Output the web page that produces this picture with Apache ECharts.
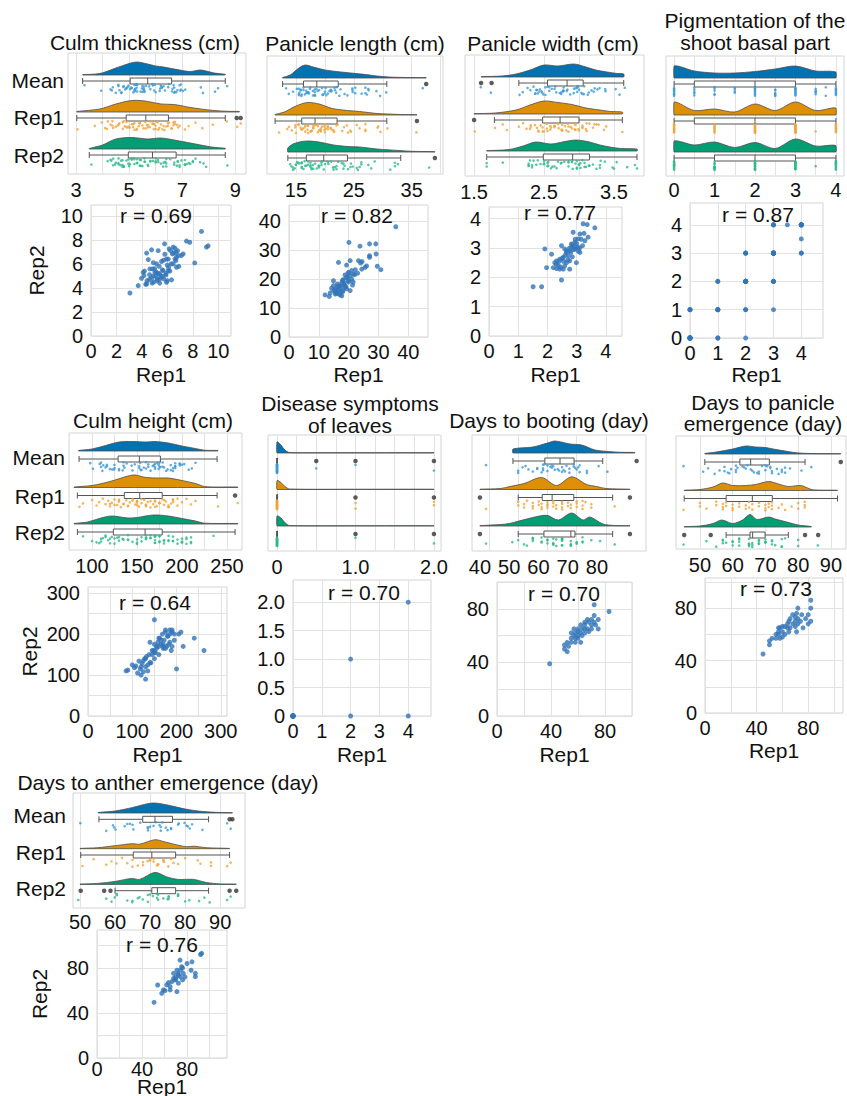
<!DOCTYPE html>
<html><head><meta charset="utf-8">
<script src="https://cdn.jsdelivr.net/npm/echarts/dist/echarts.min.js"></script>
<style>html,body{margin:0;padding:0;background:#fff}#c{width:847px;height:1096px}</style>
</head><body><div id="c"></div>
<script>
const FONT = "'Liberation Sans', Arial, Helvetica, sans-serif";
const rowNames = ['Mean', 'Rep1', 'Rep2'];
const rainColors = ['#0173B2', '#DE8F05', '#029E73'];
const ptColors = ['#3a9ad6', '#f2a43a', '#2dba8c'];
const scatterColor = '#3274B8';

// ---------- Culm thickness ----------
const ctRep1 = [3.06,3.71,3.97,4.1,4.3,4.37,4.5,4.63,4.76,4.58,4.9,4.94,5.15,5.28,5.36,5.4,5.54,5.67,5.8,5.78,5.88,5.93,5.99,6.07,6.14,6.2,6.33,6.4,6.46,6.6,6.67,6.72,6.85,6.72,7.1,7.24,7.5,7.76,8.15,8.68,9.07,9.2,4.16,4.37,4.76,5.02,5.1,5.2,4.84,5.4,5.62,5.72,6.07,5.15,5.93,6.25,6.46,6.67,4.4,4.6,4.8,5.0,5.2,5.3,5.5,5.6,5.7,5.9,6.1,6.3,6.5,6.6,6.8,4.2,4.9,5.4,6.0,6.9];
const ctRep2 = [3.58,4.19,4.8,5.3,4.3,6.9,6.36,5.58,7.17,4.7,5.0,4.5,5.3,7.1,5.8,4.75,6.2,5.44,6.8,7.67,5.08,4.47,5.9,6.4,7.25,5.4,4.67,6.83,6.0,7.3,6.97,5.72,6.7,6.55,6.7,6.83,7.9,7.8,6.08,8.7,7.4,7.5,5.03,4.33,4.8,5.3,4.97,4.75,5.58,5.17,4.97,4.75,5.44,6.0,6.4,7.1,7.4,6.28,4.6,5.1,4.4,5.6,4.6,5.2,4.9,5.5,6.3,5.2,5.7,6.0,6.9,6.4,7.1,5.4,6.1,4.4,4.6,5.8];
const ctBox = [[3.25,5.04,5.7,6.6,8.62],[3.03,4.89,5.63,6.48,8.62],[3.5,4.97,5.88,6.77,8.62]];
const ctOut = [[],[9.05,9.2],[]];
const ctDenMean = [[3.25,0.3],[3.9,1.5],[4.5,7],[5.0,11.5],[5.3,13],[5.7,11],[6.0,9],[6.3,8],[6.9,5],[7.3,3.5],[7.7,5],[8.2,2],[8.62,0.7]];
const ctDenRep1 = [[3.03,0.5],[3.9,3],[4.5,8],[5.1,11.5],[5.6,11],[6.2,8],[6.7,7.5],[7.2,5],[7.7,3],[8.2,1.5],[8.7,0.7],[9.15,0.5]];
const ctDenRep2 = [[3.5,0.5],[4.0,4],[4.5,10],[5.1,11.5],[5.7,10],[6.2,11],[6.9,8],[7.5,5],[8.1,2],[8.62,0.7]];
const ctRainGrid = [3,4,5,6,7,8,9], ctRainTicks = [3,5,7,9];
const ctScGrid = [0,2,4,6,8,10], ctScTicks = [0,2,4,6,8,10];

// ---------- Panicle length ----------
const plRep1 = [35.8,20.1,23.8,27.0,29.1,27.0,27.0,29.2,29.6,30.8,25.5,24.4,23.3,24.0,20.5,16.6,19.3,21.0,22.2,21.3,19.9,18.8,19.3,18.2,17.7,14.9,17.1,16.0,18.8,16.6,18.0,15.4,14.3,13.8,12.1,13.5,17.1,17.7,15.8,18.5,19.9,20.5,21.6,16.2,14.9,19.3,20.5,15,16,17,17.5,18,18.5,19,19.5,20,21,22,23,16.5,15.5,17,18,24.5,26,20,21.5];
const plRep2 = [38.0,32.6,31.3,32.1,32.1,28.0,27.5,28.6,24.4,23.2,24.0,23.4,26.3,25.5,26.3,25.7,24.8,22.9,23.2,17.9,22.3,21.4,20.6,19.8,18.9,19.4,17.7,17.1,17.1,16.0,15.6,16.3,16.8,15.2,14.5,14.0,14.5,14.2,15.4,18.6,19.4,21.1,21.7,18.3,17.7,16.6,16.0,16,15,16.5,17.5,16,18,17.5,20.5,19,20,21.5,22,17.5,14.8,15,19.5,26,24.5,22,19];
const plBox = [[12.7,16.3,18.6,22.3,30.7],[11.4,16.0,18.3,22.1,30.7],[13.6,16.8,19.8,23.9,33.1]];
const plOut = [[37.5],[35.9],[39]];
const plDenMean = [[12.7,0.5],[14,3],[15.5,10],[16.6,13],[18,11],[20,8],[22,6.5],[24.5,5],[27,3.5],[29,2],[31,1],[34,0.5],[37.5,0.3]];
const plDenRep1 = [[11.4,0.5],[13,3],[15,9],[17,12.5],[19,11],[21.3,6.5],[23.9,4.5],[26,3.5],[29,1.5],[31,1],[33,0.5],[35.9,0.3]];
const plDenRep2 = [[13.6,4],[14.5,8],[16,10.5],[17.2,11],[19,10],[21.5,7],[24,5.5],[26,5],[29,3],[32.8,1.5],[35,0.7],[39,0.3]];
const plRainGrid = [15,20,25,30,35,40], plRainTicks = [15,25,35];
const plScGrid = [0,10,20,30,40], plScTicks = [0,10,20,30,40];

// ---------- Panicle width ----------
const pwRep1 = [1.51,1.8,1.91,1.97,2.14,2.2,2.25,2.31,2.42,2.48,2.54,2.59,2.65,2.48,2.71,2.76,2.82,2.88,2.94,2.99,3.05,3.11,3.2,3.22,3.36,3.39,3.62,2.54,2.37,2.76,2.65,2.84,2.94,2.59,2.42,3.05,3.28,2.76,2.31,3.11,2.3,2.45,2.55,2.6,2.7,2.75,2.8,2.85,2.9,2.95,3.0,3.05,3.15,3.1,2.65,2.5,2.4,3.25,2.95,2.85];
const pwRep2 = [1.68,1.68,2.97,2.33,2.79,2.33,2.5,2.3,2.28,1.91,2.68,2.39,2.5,3.08,2.74,2.91,3.14,3.54,2.97,2.5,3.31,2.85,3.08,3.83,3.8,3.37,3.69,2.28,2.41,2.56,2.85,3.02,3.2,2.97,2.62,3.02,3.25,2.28,2.56,3.48,2.45,2.35,2.55,2.75,2.6,3.0,2.85,3.1,2.95,3.05,3.15,2.9,3.3,3.0,2.9,2.65,2.55,3.5,3.3,2.7];
const pwBox = [[2.14,2.55,2.83,3.06,3.64],[1.79,2.48,2.73,3.0,3.62],[1.68,2.49,2.91,3.15,3.83]];
const pwOut = [[1.6,1.75],[1.5],[]];
const pwDenMean = [[1.6,0.3],[1.9,1],[2.1,3],[2.3,7],[2.5,12],[2.7,11],[2.93,13],[3.1,10],[3.24,7],[3.4,5],[3.55,3.5],[3.64,3]];
const pwDenRep1 = [[1.5,0.3],[1.8,1],[2.1,4],[2.3,9],[2.5,13],[2.7,11.5],[2.9,9.5],[3.1,6],[3.3,4],[3.45,2.5],[3.62,2]];
const pwDenRep2 = [[1.68,0.3],[2.0,1.5],[2.2,5],[2.38,9],[2.6,7],[2.8,9.5],[2.96,11],[3.15,9],[3.3,6],[3.44,4],[3.6,2.5],[3.83,2]];
const pwRainGrid = [1.5,2,2.5,3,3.5], pwRainTicks = [1.5,2.5,3.5];
const pwScGrid = [0,1,2,3,4], pwScTicks = [0,1,2,3,4];

// ---------- Pigmentation of the shoot basal part ----------
const pgRep1 = [0,0,0,0,0,0,0,0,0,0,0,1,1,1,1,1,1,1,1,2,2,2,2,2,2,2,2,2,2,2,2,2,2,3,3,3,3,3,3,3,3,3,3,3,3,3,3,3,3,3,3.5,4,4,4,4,4,4,4,4,4,4];
const pgRep2 = [0,0,0,0,0,0,0,0,1,1,1,0,0,1,1,1,1,2,2,0,1,1,2,2,2,2,2,2,2,2,3,3,3,4,1,2,2,2,3,3,3,3,3,3,3,3,3,3,4,4,4,4,4,4,4,4,4,4,3.5,3,3,3];
const pgBox = [[0,0.5,2,3,4],[0,0.5,2,3,4],[0,1,2,3,4]];
const pgOut = [[],[],[]];
const pgDenMean = [[0,12],[0.5,7],[1.0,5],[1.5,5],[2.0,6.5],[2.5,9],[3.0,12],[3.5,7],[4.0,6]];
const pgDenRep1 = [[0,13],[0.5,4.5],[1.0,6],[1.5,3],[2.0,11],[2.5,4.5],[3.0,13],[3.5,4.5],[4.0,7]];
const pgDenRep2 = [[0,11],[0.5,7],[1.0,10],[1.5,4.5],[2.0,9.5],[2.5,3.5],[3.0,13],[3.5,6],[4.0,6.5]];
const pgRainGrid = [0,0.5,1,1.5,2,2.5,3,3.5,4], pgRainTicks = [0,1,2,3,4];
const pgScGrid = [0,1,2,3,4], pgScTicks = [0,1,2,3,4];

// ---------- Culm height ----------
const chRep1 = [86,90,100,105,108,112,115,118,120,122,125,128,130,132,135,138,140,142,145,148,150,152,155,158,160,162,165,168,170,172,175,178,180,182,185,188,190,195,200,205,210,215,240,262,130,150,170,185,120,130,140,150,155,160,165,170,175,180,185,190,195,135,145,160,175,190,125,150];
const chRep2 = [110,112,125,118,122,105,134,115,100,128,108,140,90,145,125,150,180,130,150,160,235,155,165,180,170,190,175,200,165,185,210,170,195,175,200,160,205,185,115,200,205,170,190,160,120,140,170,210,120,140,130,155,170,150,185,175,165,195,180,170,200,110,160,190,205,210,135,175];
const chBox = [[85.6,129,152.6,176,239],[83.7,135.9,153,178,239],[83.7,123.7,159,178,259]];
const chOut = [[],[259],[]];
const chDenMean = [[85,0.5],[100,2],[115,5.5],[130,9],[145,9.5],[160,9],[170,9.5],[185,8],[200,5],[215,2.5],[225,0.8],[240,0.5]];
const chDenRep1 = [[80,0.5],[100,2],[120,6],[140,11.5],[148,12.5],[160,10],[175,9.5],[185,9.5],[200,7],[215,4],[225,1],[240,0.5],[262,0.5]];
const chDenRep2 = [[80,0.5],[95,2],[110,6],[122,8],[140,6],[150,6.5],[168,9],[185,8],[200,5.5],[215,3],[225,0.8],[262,0.5]];
const chRainGrid = [100,125,150,175,200,225,250], chRainTicks = [100,150,200,250];
const chScGrid = [0,50,100,150,200,250,300], chScTicks = [0,100,200,300];

// ---------- Disease symptoms of leaves ----------
const dsRep1 = [0,0,0,0,0,0,0,0,0,0,2,4,2,4];
const dsRep2 = [0,0,0,0,0,0,0,0,0,0,0,0,1,2];
const dsRainMean = [0,0,0,0,0,0,0,0,0,0,0,0,0,0,0,0,0,0,0,0,0.5,1,2];
const dsRainRep1 = [0,0,0,0,0,0,0,0,0,0,0,0,0,0,0,0,0,0,0,0,1,1,2,2];
const dsRainRep2 = [0,0,0,0,0,0,0,0,0,0,0,0,0,0,0,0,0,0,0,0,1,2];
const dsBox = [[0,0,0,0,0],[0,0,0,0,0],[0,0,0,0,0]];
const dsOut = [[0.5,1,2],[1,2],[1,2]];
const dsDenMean = [[0,11],[0.05,8],[0.1,3],[0.16,0.5],[0.5,0.3],[1,0.3],[2,0.3]];
const dsDenRep1 = [[0,9],[0.05,7],[0.1,3],[0.16,0.5],[1,0.3],[2,0.3]];
const dsDenRep2 = [[0,10],[0.05,8],[0.1,3.5],[0.16,0.5],[1,0.3],[2,0.3]];
const dsRainGrid = [0,0.25,0.5,0.75,1,1.25,1.5,1.75,2], dsRainTicks = [0,1,2];
const dsScXGrid = [0,1,2,3,4], dsScXTicks = [0,1,2,3,4];
const dsScYGrid = [0,0.5,1,1.5,2], dsScYTicks = [0,0.5,1,1.5,2];

// ---------- Days to booting ----------
const dbRep1 = [39,50,50,52,52,53,55,55,55,57,57,58,58,58,60,60,60,60,62,62,62,63,63,65,65,65,65,67,67,68,68,70,70,70,72,72,73,75,75,72,83];
const dbRep2 = [39,50,53,48,55,52,55,58,62,60,65,58,55,62,60,63,58,65,62,68,55,60,65,65,70,62,68,65,72,70,63,68,72,65,70,75,68,72,65,83,78];
const dbBox = [[48.2,59.1,64.3,69.1,78.9],[50,58.2,61.6,69,82.3],[50,58.8,68,69.4,82.3]];
const dbOut = [[90.5],[36.9,88.2],[36.9,88.2]];
const dbDenMean = [[48.2,4],[55,6],[60,10],[62.6,12],[67.7,9],[71.7,8],[76.3,3],[80.8,1.5],[85,0.7],[89.9,0.5]];
const dbDenRep1 = [[36.9,0.3],[44,1],[47.2,3],[52,6],[58,12],[63.1,4],[68.3,12.7],[73.4,5],[76.8,3],[80,1],[88.2,0.3]];
const dbDenRep2 = [[36.9,0.3],[44,1.5],[47,2.5],[52.9,7],[59.7,10.7],[63.7,6],[68.3,13],[72.2,6],[74.5,9],[79,2],[83,0.5],[88.2,0.3]];
const dbRainGrid = [40,50,60,70,80], dbRainTicks = [40,50,60,70,80];
const dbScGrid = [0,20,40,60,80,100], dbScTicks = [0,40,80];

// ---------- Days to panicle emergence ----------
const dpRep1 = [45,50,50,52,55,55,57,57,57,58,58,60,60,60,62,62,64,64,65,65,66,66,68,68,70,70,70,71,71,72,72,72,74,75,76,78,80,80,82,82,82];
const dpRep2 = [45,52,55,57,57,60,60,62,65,57,65,58,62,66,60,66,65,68,62,70,65,72,68,75,66,70,73,62,76,68,72,80,70,75,65,72,75,68,80,86,70];
const dpBox = [[51.5,62.2,65.5,71.2,82.1],[45.2,58,66,72.1,92],[58,65.3,66.1,69.9,77]];
const dpOut = [[93],[],[45.2,53.3,82.1,86.1]];
const dpDenMean = [[51.5,0.5],[55,2],[60,5],[64,8],[67,7],[70,6.5],[72.4,5],[76,3],[79.5,1.2],[84,0.5],[93,0.3]];
const dpDenRep1 = [[45.2,0.3],[50,1],[54,3.5],[57,7.5],[60,5],[64,5],[67,6],[71,9],[74,6.5],[77,4],[80.8,5],[84.5,0.7],[92,0.3]];
const dpDenRep2 = [[45.2,0.3],[50,1],[54,3.5],[56.7,7],[60,3.5],[63,7],[65.3,12.5],[67.4,7.5],[71,10],[73,8],[76.5,5],[80,2],[84,0.5]];
const dpRainGrid = [50,60,70,80,90], dpRainTicks = [50,60,70,80,90];
const dpScGrid = [0,20,40,60,80,100], dpScTicks = [0,40,80];

// ---------- Days to anther emergence ----------
const daRep1 = [50.7,93,53.9,57.5,59,62,60.4,65,66.5,68,71,72.3,73.8,75.2,76.7,73.8,68,71,80,84.4,83.6,87.4,87.4,76,72.3,69.3,65,63.5,70,72,74,76,78,70,92];
const daRep2 = [49.5,93,64.9,57.5,60.5,65,59.9,60.5,67.9,70.8,59,66.5,72.3,81.2,75.3,87,75.3,78,84,85.5,78,72.3,75.3,69.4,73.8,69.4,63.5,67,72,75,78,80,72,70,92];
const daBox = [[55.4,67.9,71.4,76.4,86.7],[50.2,65.2,70.5,77.3,92.7],[60,70.5,72.1,77.3,86.7]];
const daOut = [[92.7,93.5],[],[50.2,56.9,58.7,92.7,94.6]];
const daDenMean = [[55.2,0.5],[60,2],[65,5.5],[70.6,10],[75,8],[80,4],[85,1.5],[90,0.5],[93.5,0.3]];
const daDenRep1 = [[50,0.3],[55,1],[60,3],[64.9,5],[67,4.5],[71.4,9],[74,7],[78,3.5],[80.4,2],[82.5,2.5],[86,1],[92.7,0.3]];
const daDenRep2 = [[50,0.3],[55,1],[60,3],[64.8,6],[67,5],[71.4,12],[74.8,7.5],[78,5],[82.4,5],[86,2],[90,0.5],[94.6,0.3]];
const daRainGrid = [50,60,70,80,90], daRainTicks = [50,60,70,80,90];
const daScGrid = [0,20,40,60,80,100], daScTicks = [0,40,80];

const rValues = ['0.69','0.82','0.77','0.87','0.64','0.70','0.70','0.73','0.76'];

// ---------- layout (positions only) ----------
const G1 = {y0:22, dy:37, bo:6, p0:9, p1:18};
const G2 = {y0:18, dy:36.5, bo:8, p0:11, p1:20};
const G3 = {y0:20, dy:35.7, bo:6.3, p0:9, p1:18};
const fmt1 = v => v === 0 ? '0' : v.toFixed(1);

const traits = [
 {title:['Culm thickness (cm)'], tx:145, ty:[42], rep1:ctRep1, rep2:ctRep2, box:ctBox, out:ctOut, den:[ctDenMean,ctDenRep1,ctDenRep2], rg:ctRainGrid, rt:ctRainTicks,
  rain:{l:68,t:53,w:178,h:121,xmin:2.7,xmax:9.4,G:G1,rows:[64,[80,117,155]]},
  sc:{l:91,t:205,w:140,h:131,xmax:11,ymax:10.9,xg:ctScGrid,xt:ctScTicks,yg:ctScGrid,yt:ctScTicks,rx:156,ry:215,xng:28,yng:44}},
 {title:['Panicle length (cm)'], tx:355, ty:[43], rep1:plRep1, rep2:plRep2, box:plBox, out:plOut, den:[plDenMean,plDenRep1,plDenRep2], rg:plRainGrid, rt:plRainTicks,
  rain:{l:267,t:56,w:176,h:118,xmin:10,xmax:40.4,G:G1},
  sc:{l:289,t:205,w:139,h:132,xmax:46.6,ymax:45.5,xg:plScGrid,xt:plScTicks,yg:plScGrid,yt:plScTicks,rx:357,ry:215,xng:27}},
 {title:['Panicle width (cm)'], tx:553, ty:[43], rep1:pwRep1, rep2:pwRep2, box:pwBox, out:pwOut, den:[pwDenMean,pwDenRep1,pwDenRep2], rg:pwRainGrid, rt:pwRainTicks,
  rain:{l:465,t:55,w:179,h:121,xmin:1.37,xmax:3.93,G:G1},
  sc:{l:489,t:207,w:133,h:129,xmax:4.55,ymax:4.4,xg:pwScGrid,xt:pwScTicks,yg:pwScGrid,yt:pwScTicks,rx:560,ry:212,xng:28}},
 {title:['Pigmentation of the','shoot basal part'], tx:755, ty:[20,42], rep1:pgRep1, rep2:pgRep2, box:pgBox, out:pgOut, den:[pgDenMean,pgDenRep1,pgDenRep2], rg:pgRainGrid, rt:pgRainTicks, lmargin:4,
  rain:{l:666,t:56,w:178,h:120,xmin:-0.2,xmax:4.2,G:G1},
  sc:{l:690,t:203,w:133,h:135,xmax:4.78,ymax:4.77,xg:pgScGrid,xt:pgScTicks,yg:pgScGrid,yt:pgScTicks,rx:758,ry:214,xng:26}},
 {title:['Culm height (cm)'], tx:153, ty:[420], rep1:chRep1, rep2:chRep2, box:chBox, out:chOut, den:[chDenMean,chDenRep1,chDenRep2], rg:chRainGrid, rt:chRainTicks,
  rain:{l:69,t:433,w:173,h:117,xmin:74.4,xmax:266.7,G:G2,rows:[65,[457,496,532]]},
  sc:{l:88,t:587,w:139,h:129,xmax:314,ymax:315,xg:chScGrid,xt:chScTicks,yg:chScGrid,yt:chScTicks,rx:155,ry:602,xng:28,yng:48}},
 {title:['Disease symptoms','of leaves'], tx:350, ty:[403,425], rep1:dsRep1, rep2:dsRep2, pts:[dsRainMean,dsRainRep1,dsRainRep2], box:dsBox, out:dsOut, den:[dsDenMean,dsDenRep1,dsDenRep2], rg:dsRainGrid, rt:dsRainTicks, rfmt:fmt1,
  rain:{l:268,t:435,w:173,h:116,xmin:-0.115,xmax:2.09,G:G2},
  sc:{l:293,t:580,w:138,h:136,xmax:4.79,ymax:2.39,xg:dsScXGrid,xt:dsScXTicks,yg:dsScYGrid,yt:dsScYTicks,yfmt:fmt1,rx:364,ry:592,xng:28}},
 {title:['Days to booting (day)'], tx:549, ty:[420], rep1:dbRep1, rep2:dbRep2, box:dbBox, out:dbOut, den:[dbDenMean,dbDenRep1,dbDenRep2], rg:dbRainGrid, rt:dbRainTicks, lpad:[0,18,0,0],
  rain:{l:472,t:435,w:174,h:116,xmin:34.2,xmax:93.7,G:G2},
  sc:{l:497,t:582,w:135,h:134,xmax:100,ymax:100,xg:dbScGrid,xt:dbScTicks,yg:dbScGrid,yt:dbScTicks,rx:564,ry:593,xng:28}},
 {title:['Days to panicle','emergence (day)'], tx:763, ty:[402,423], rep1:dpRep1, rep2:dpRep2, box:dpBox, out:dpOut, den:[dpDenMean,dpDenRep1,dpDenRep2], rg:dpRainGrid, rt:dpRainTicks,
  rain:{l:676,t:436,w:170,h:113,xmin:42.7,xmax:94.6,G:G2},
  sc:{l:705,t:578,w:138,h:135,xmax:107,ymax:103,xg:dpScGrid,xt:dpScTicks,yg:dpScGrid,yt:dpScTicks,rx:776,ry:588,xng:27}},
 {title:['Days to anther emergence (day)'], tx:168, ty:[782], rep1:daRep1, rep2:daRep2, box:daBox, out:daOut, den:[daDenMean,daDenRep1,daDenRep2], rg:daRainGrid, rt:daRainTicks, lmargin:4,
  rain:{l:73,t:793,w:172,h:115,xmin:48,xmax:97.1,G:G3,rows:[66,[815,852,888]]},
  sc:{l:97,t:930,w:130,h:128,xmax:115.5,ymax:113.8,xg:daScGrid,xt:daScTicks,yg:daScGrid,yt:daScTicks,rx:162,ry:944,xng:18,yng:47,xlm:1}}
];

const option = {animation:false, backgroundColor:'#fff', grid:[], xAxis:[], yAxis:[], series:[], graphic:[]};
function txt(x, y, s, size, align) {
  option.graphic.push({type:'text', x:x, y:y, z:100, silent:true,
    style:{text:s, font:size + 'px ' + FONT, fill:'#111', textAlign:align || 'center', textVerticalAlign:'middle', align:align || 'center', verticalAlign:'middle'}});
}
function jit(i) { return (i * 0.6180339887 + 0.13) % 1; }
const labelStyle = {fontSize:20, color:'#111', fontFamily:FONT};
const splitStyle = {show:true, lineStyle:{color:'#e2e2e2', width:1}};
const nameStyle = {fontSize:21, color:'#111', fontFamily:FONT};

traits.forEach((T, ti) => {
  // ---------- raincloud ----------
  const L = T.rain, G = L.G;
  let gi = option.grid.length;
  option.grid.push({left:L.l, top:L.t, width:L.w, height:L.h, show:true, borderColor:'#d4d4d4', borderWidth:1, backgroundColor:'transparent', containLabel:false, outerBoundsMode:'none'});
  const xl = Object.assign({customValues:T.rt, margin:T.lmargin || 6}, labelStyle);
  if (T.rfmt) xl.formatter = T.rfmt;
  if (T.lpad) xl.padding = T.lpad;
  option.xAxis.push({type:'value', gridIndex:gi, min:L.xmin, max:L.xmax, axisLine:{show:false}, axisTick:{show:false, customValues:T.rg}, axisLabel:xl, splitLine:splitStyle});
  option.yAxis.push({type:'value', gridIndex:gi, min:0, max:L.h, inverse:true, show:false});
  const gIdx = gi;
  option.series.push({type:'custom', xAxisIndex:gIdx, yAxisIndex:gIdx, data:[[0,0],[1,1],[2,2]], clip:false, silent:true, z:2,
    renderItem:(params, api) => {
      const r = params.dataIndex;
      const base = G.y0 + r * G.dy, by = base + G.bo;
      const den = T.den[r];
      const top = den.map(d => api.coord([d[0], base - d[1]]));
      const b0 = api.coord([den[0][0], base]), b1 = api.coord([den[den.length - 1][0], base]);
      const pts = [b0].concat(top).concat([b1]);
      const minY = Math.min.apply(null, pts.map(p => p[1]));
      const children = [{type:'polygon', shape:{points:pts, smooth:0.3, smoothConstraint:[[b0[0] - 0.5, minY - 1.5],[b1[0] + 0.5, b0[1]]]},
        style:{fill:rainColors[r], stroke:'#4d4d4d', lineWidth:0.8}}];
      const bx = T.box[r].map(v => api.coord([v, by])[0]);
      const y = api.coord([T.box[r][0], by])[1];
      const hb = 3, st = {stroke:'#555', lineWidth:1, fill:null};
      children.push({type:'line', shape:{x1:bx[0], y1:y, x2:bx[1], y2:y}, style:st});
      children.push({type:'line', shape:{x1:bx[3], y1:y, x2:bx[4], y2:y}, style:st});
      children.push({type:'line', shape:{x1:bx[0], y1:y - hb, x2:bx[0], y2:y + hb}, style:st});
      children.push({type:'line', shape:{x1:bx[4], y1:y - hb, x2:bx[4], y2:y + hb}, style:st});
      children.push({type:'rect', shape:{x:bx[1], y:y - hb, width:Math.max(bx[3] - bx[1], 0.5), height:2 * hb}, style:{fill:'#fff', stroke:'#555', lineWidth:1}});
      children.push({type:'line', shape:{x1:bx[2], y1:y - hb, x2:bx[2], y2:y + hb}, style:st});
      return {type:'group', children:children};
    }});
  const rows = T.pts || [T.rep1.map((v, i) => (v + T.rep2[i]) / 2), T.rep1, T.rep2];
  rows.forEach((arr, r) => {
    const base = G.y0 + r * G.dy;
    option.series.push({type:'scatter', xAxisIndex:gIdx, yAxisIndex:gIdx, silent:true, z:3, symbolSize:2.6,
      itemStyle:{color:ptColors[r]}, data:arr.map((v, i) => [v, base + G.p0 + (G.p1 - G.p0) * jit(i + r * 11)])});
    option.series.push({type:'scatter', xAxisIndex:gIdx, yAxisIndex:gIdx, silent:true, z:5, symbolSize:4.5,
      itemStyle:{color:'#333'}, data:T.out[r].map(v => [v, base + G.bo])});
  });
  T.title.forEach((s, k) => txt(T.tx, T.ty[k], s, 21));
  if (L.rows) rowNames.forEach((s, k) => txt(L.rows[0], L.rows[1][k], s, 21, 'right'));

  // ---------- scatter ----------
  const S = T.sc;
  gi = option.grid.length;
  option.grid.push({left:S.l, top:S.t, width:S.w, height:S.h, show:true, borderColor:'#d4d4d4', borderWidth:1, backgroundColor:'transparent', containLabel:false, outerBoundsMode:'none'});
  const ylab = Object.assign({customValues:S.yt, margin:8}, labelStyle);
  if (S.yfmt) ylab.formatter = S.yfmt;
  option.xAxis.push({type:'value', gridIndex:gi, min:0, max:S.xmax, axisLine:{show:false}, axisTick:{show:false, customValues:S.xg},
    axisLabel:Object.assign({customValues:S.xt, margin:S.xlm !== undefined ? S.xlm : 5}, labelStyle), splitLine:splitStyle,
    name:'Rep1', nameLocation:'middle', nameGap:S.xng, nameMoveOverlap:false, nameTextStyle:nameStyle});
  const ya = {type:'value', gridIndex:gi, min:0, max:S.ymax, axisLine:{show:false}, axisTick:{show:false, customValues:S.yg},
    axisLabel:ylab, splitLine:splitStyle};
  if (S.yng) Object.assign(ya, {name:'Rep2', nameLocation:'middle', nameGap:S.yng, nameMoveOverlap:false, nameTextStyle:nameStyle});
  option.yAxis.push(ya);
  option.series.push({type:'scatter', xAxisIndex:gi, yAxisIndex:gi, silent:true, z:3, symbolSize:5,
    itemStyle:{color:scatterColor}, data:T.rep1.map((v, i) => [v, T.rep2[i]])});
  txt(S.rx, S.ry, 'r = ' + rValues[ti], 21);
});

const chart = echarts.init(document.getElementById('c'), null, {renderer:'svg', width:847, height:1096});
chart.setOption(option);
</script></body></html>
